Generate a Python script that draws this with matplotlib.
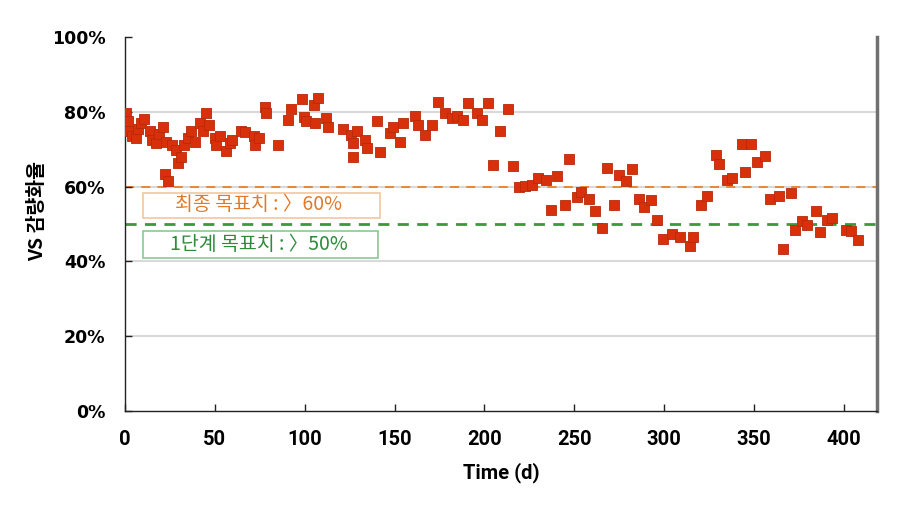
import matplotlib
matplotlib.use("Agg")
import matplotlib.pyplot as plt
from matplotlib.patches import Rectangle
from matplotlib.ticker import FuncFormatter
import matplotlib.transforms as mtransforms

# ---- data ----
days = [0.5, 1.5, 2.5, 4, 6, 7.5, 9, 10.5, 14, 15, 17, 19, 21, 23, 22, 24, 26, 28.4, 29.5, 31,
        33, 35, 36.7, 38.8, 41.6, 43.4, 45, 47, 50, 50.5, 52.7, 56, 58.3, 59.5, 64.6, 66.6, 72,
        72.5, 74.5, 78, 78.5,
        85, 90.6, 92.5, 98.5, 99.5, 101, 105.8, 105, 107.5, 112, 113, 121.4, 126, 129, 127, 127,
        133.6, 134.5, 140, 142, 147.5, 149, 153, 154.8, 161.5, 163, 167, 170.8, 174, 178, 182,
        184.8, 188, 191, 195.8, 198.6, 202, 208.8, 213, 205, 216,
        219, 222.7, 226.5, 230, 234.2, 237, 240.4, 245, 247, 251.4, 254, 258, 261.4, 265.2, 268,
        272, 275, 279, 282, 286, 289, 293, 296, 299.6, 304.2, 309, 314.6, 316, 320.5, 323.8,
        328.8, 330.7, 335, 337.7, 343.3, 348.5, 344.8, 351.7, 356, 359, 363.7, 370.8, 366,
        372.7, 376.7, 379.5, 384.7, 387, 390.7, 393.5, 401, 404, 408]
vs_rate = [79.8, 77.5, 75, 73.5, 73, 75.5, 77, 78, 74.8, 72.5, 71.6, 74, 76, 72, 63.5, 61.4, 71,
           69.7, 66.2, 68, 71, 73, 74.8, 72, 77, 74.8, 79.6, 76.5, 73, 71, 73.5, 69.4, 71.6, 72.4,
           75, 74.5, 73.4, 71, 73, 81.2, 79.6,
           71, 77.7, 80.8, 83.4, 78.5, 77.5, 77, 81.8, 83.8, 78.3, 75.9, 75.5, 73.7, 75, 71.6,
           67.8, 72.4, 70.2, 77.5, 69.2, 74.2, 75.9, 71.8, 77, 79, 76.4, 73.7, 76.4, 82.6, 79.6,
           78.3, 79, 77.7, 82.3, 79.6, 77.7, 82.3, 75, 80.7, 65.7, 65.4,
           59.8, 60.1, 60.3, 62.3, 61.7, 53.8, 62.9, 55, 67.5, 57.3, 58.5, 56.6, 53.4, 48.8, 64.9,
           55.2, 63, 61.4, 64.6, 56.6, 54.5, 56.3, 51.2, 46.1, 47.2, 46.5, 44.2, 46.4, 55.2, 57.6,
           68.4, 66, 61.7, 62.2, 71.5, 71.3, 63.9, 66.6, 68.1, 56.6, 57.6, 58.3, 43.4,
           48.3, 50.9, 49.6, 53.6, 47.8, 51.1, 51.6, 48.3, 48, 45.8]

target_final = 60
target_stage1 = 50
label_final = "최종 목표치 : 〉60%"
label_stage1 = "1단계 목표치 : 〉50%"
x_ticks = [0, 50, 100, 150, 200, 250, 300, 350, 400]
y_ticks = [0, 20, 40, 60, 80, 100]

xfont = ['Roboto', 'DejaVu Sans']
kr = ['Noto Sans CJK KR', 'DejaVu Sans']

fig = plt.figure(figsize=(9, 5.05), dpi=100)
ax = fig.add_axes([125/900, 1-411/505, (877-125)/900, (411-37)/505])

# grid
for yv in [20, 40, 60, 80]:
    ax.axhline(yv, color='#D9D9D9', lw=1.5, zorder=0)

# target lines
ax.axhline(target_final, color='#E8812A', lw=1.3, ls=(0, (5, 4)), zorder=1)
ax.axhline(target_stage1, color='#3A9A3A', lw=2.0, ls=(0, (4, 3)), zorder=1)

# data
ax.scatter(days, vs_rate, marker='s', s=62, facecolor='#D8300B', edgecolor='#B82A0A',
           linewidth=0.6, zorder=3)

# annotation boxes
trans = mtransforms.blended_transform_factory(ax.transAxes, ax.transData)
ax.add_patch(Rectangle((0.0235, 51.7), 0.3155, 6.7, transform=trans, facecolor='white',
                       edgecolor='#F3C7A0', lw=1.2, zorder=2))
ax.text(0.178, 55.1, label_final, transform=trans, ha='center', va='center',
        color='#E07A2A', fontsize=14, family=kr, fontweight='medium', zorder=4)
ax.add_patch(Rectangle((0.0235, 40.8), 0.3125, 7.4, transform=trans, facecolor='white',
                       edgecolor='#8CC896', lw=1.2, zorder=2))
ax.text(0.178, 44.6, label_stage1, transform=trans, ha='center', va='center',
        color='#2E8B3A', fontsize=14, family=kr, fontweight='medium', zorder=4)

ax.set_xlim(0, 418.5)
ax.set_ylim(0, 100)
ax.set_xticks(x_ticks)
ax.set_yticks(y_ticks)
ax.yaxis.set_major_formatter(FuncFormatter(lambda v, p: f"{int(v)}%"))

ax.spines['top'].set_visible(False)
ax.spines['left'].set_color('#222222')
ax.spines['bottom'].set_color('#222222')
ax.spines['left'].set_linewidth(1.0)
ax.spines['bottom'].set_linewidth(1.0)
ax.spines['right'].set_color('#707070')
ax.spines['right'].set_linewidth(2.5)

ax.tick_params(axis='x', direction='in', length=5, width=1, pad=14, color='#222222')
ax.tick_params(axis='y', direction='in', length=5, width=1, pad=14, color='#222222')
for lab in ax.get_xticklabels():
    lab.set_family(xfont)
    lab.set_fontsize(14.5)
    lab.set_fontweight('bold')
for lab in ax.get_yticklabels():
    lab.set_family(['DejaVu Sans'])
    lab.set_fontsize(12.5)
    lab.set_fontweight('bold')

ax.set_xlabel("Time (d)", family=xfont, fontsize=14.5, fontweight='bold', labelpad=9)
ax.set_ylabel("VS 감량화율", family=kr, fontsize=14, fontweight='bold')
ax.yaxis.set_label_coords(-0.104, 0.535)

fig.savefig("out.png", dpi=100)
